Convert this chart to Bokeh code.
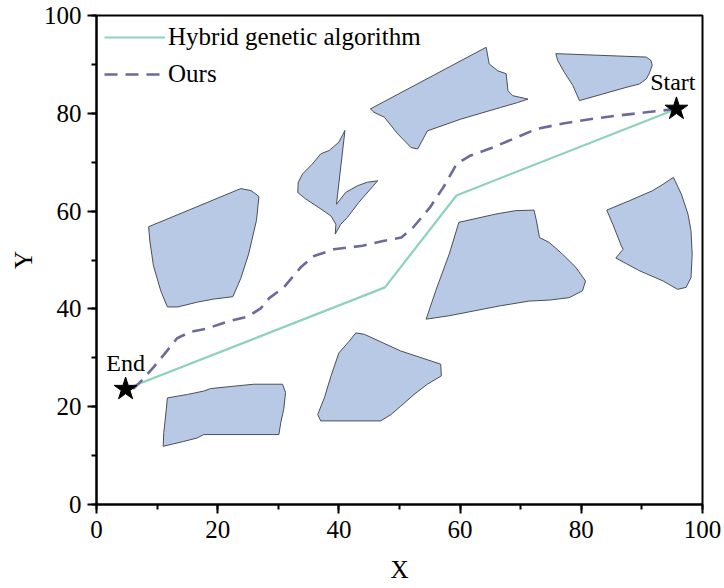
from bokeh.plotting import figure
from bokeh.models import Range1d, SingleIntervalTicker, ColumnDataSource
from bokeh.core.properties import value
from bokeh.embed import file_html
from bokeh.resources import INLINE

# ---------------- data ----------------
obs1_x = [8.6, 23.8, 25.5, 26.8, 26.4, 25.1, 23.8, 22.5, 19.3, 16.7, 13.4, 11.7, 10.6, 9.4, 8.8]
obs1_y = [56.8, 64.6, 64.2, 63.0, 58.1, 51.2, 46.2, 42.5, 42.0, 41.4, 40.4, 40.4, 43.7, 48.8, 53.9]

obs2_x = [41.0, 40.0, 38.4, 37.0, 35.6, 34.0, 33.3, 33.2, 34.5, 36.7, 38.7, 39.5, 39.4, 40.3, 41.4,
          43.3, 46.4, 44.7, 43.1, 41.1, 39.6]
obs2_y = [76.5, 74.1, 72.4, 71.7, 69.6, 67.6, 65.9, 63.8, 62.5, 60.7, 59.0, 57.3, 55.3, 57.3, 58.7,
          61.8, 66.2, 65.9, 65.2, 63.8, 61.4]

obs3_x = [45.2, 64.3, 64.8, 66.2, 67.6, 67.9, 68.7, 71.2, 69.5, 66.7, 60.1, 54.6, 53.0, 51.9, 49.7, 47.5, 45.8]
obs3_y = [80.9, 93.5, 90.1, 88.7, 88.1, 84.6, 83.6, 82.9, 82.2, 81.2, 78.8, 76.4, 72.7, 73.0, 75.8, 79.2, 80.2]

obs4_x = [75.8, 90.7, 91.5, 91.7, 91.2, 90.7, 89.6, 87.4, 79.7, 78.6, 77.2, 76.1]
obs4_y = [92.2, 91.5, 90.8, 89.8, 88.1, 87.0, 86.0, 85.3, 82.6, 85.7, 88.4, 90.8]

obs5_x = [59.8, 65.9, 69.2, 72.2, 72.6, 73.1, 74.7, 76.9, 79.1, 80.7, 80.2, 78.0, 74.7, 71.4, 66.5,
          58.2, 54.4, 56.0, 58.2]
obs5_y = [57.7, 59.4, 60.1, 60.2, 58.0, 54.6, 53.6, 51.2, 48.5, 45.7, 43.7, 42.3, 41.8, 41.6, 40.6,
          38.6, 37.9, 43.8, 51.2]

obs6_x = [84.2, 87.9, 91.8, 93.5, 95.2, 96.5, 97.6, 98.1, 98.3, 98.1, 97.3, 95.9, 93.5, 89.6, 85.7,
          86.9, 86.6, 85.2]
obs6_y = [60.2, 62.1, 64.2, 65.5, 66.9, 63.5, 59.4, 56.0, 51.2, 46.4, 44.4, 44.0, 45.7, 47.8, 50.4,
          52.2, 52.9, 57.3]

obs7_x = [42.8, 44.2, 50.2, 56.8, 56.9, 54.6, 52.4, 50.2, 48.6, 46.9, 37.0, 36.5, 37.6, 38.7, 40.0, 41.7]
obs7_y = [35.1, 34.8, 31.4, 28.7, 26.3, 24.6, 22.5, 20.1, 18.4, 17.1, 17.1, 18.4, 21.8, 26.3, 31.0, 33.4]

obs8_x = [11.7, 15.0, 17.7, 18.8, 22.7, 26.0, 30.7, 31.2, 30.9, 30.4, 30.1, 17.7, 16.6, 14.4, 11.0, 11.1, 11.4]
obs8_y = [21.8, 22.5, 23.2, 23.7, 24.2, 24.6, 24.6, 22.9, 19.5, 16.7, 14.3, 14.3, 13.6, 12.9, 11.9, 14.7, 18.1]

hybrid_x = [95.7, 59.4, 47.6, 4.8]
hybrid_y = [80.9, 63.2, 44.4, 23.6]

ours_x = [95.7, 90.7, 85.8, 81.4, 77.0, 72.6, 65.4, 61.6, 59.4, 58.5, 57.2, 55.0, 52.2, 50.3, 47.3,
          43.9, 39.2, 35.9, 33.7, 30.9, 28.5, 27.1, 24.9, 21.6, 18.3, 15.5, 13.3, 11.1, 9.5, 7.8, 6.2, 4.8]
ours_y = [80.9, 80.2, 79.5, 78.8, 77.9, 76.8, 73.0, 71.3, 69.6, 67.6, 64.8, 60.7, 56.6, 54.6, 53.9,
          52.9, 52.2, 50.8, 48.5, 44.4, 42.2, 40.1, 38.4, 37.4, 36.0, 35.3, 34.0, 30.6, 28.2, 25.8, 23.8, 23.6]

point_x = [95.7, 4.8]
point_y = [80.9, 23.6]
point_labels = ["Start", "End"]
label_x = [95.1, 4.8]
label_y = [86.4, 29.0]

series_names = ["Hybrid genetic algorithm", "Ours"]

# ---------------- figure ----------------
FONT = "Liberation Serif"

p = figure(width=724, height=588, output_backend="svg", toolbar_location=None,
           x_range=Range1d(0, 100), y_range=Range1d(0, 100),
           min_border_left=96, min_border_right=22, min_border_top=15, min_border_bottom=84)
p.grid.visible = False
p.background_fill_color = "white"
p.border_fill_color = "white"
p.outline_line_color = "black"
p.outline_line_width = 2

obs_xs = [obs1_x, obs2_x, obs3_x, obs4_x, obs5_x, obs6_x, obs7_x, obs8_x]
obs_ys = [obs1_y, obs2_y, obs3_y, obs4_y, obs5_y, obs6_y, obs7_y, obs8_y]
p.patches(xs=obs_xs, ys=obs_ys, fill_color="#b7c9e4", line_color="#4a4f5a", line_width=1)

p.line(hybrid_x, hybrid_y, line_color="#8dd3b9", line_width=2.2, legend_label=series_names[0])
p.line(ours_x, ours_y, line_color="#6c6a9c", line_width=2.6, line_dash="13 8",
       legend_label=series_names[1])

p.scatter(point_x, point_y, marker="star", size=24, fill_color="black", line_color="black")

src = ColumnDataSource(dict(x=label_x, y=label_y, t=point_labels))
p.text(x="x", y="y", text="t", source=src, text_align="center", text_baseline="alphabetic",
       text_font=value(FONT), text_font_size="24px", text_color="black")

for ax in (p.xaxis[0], p.yaxis[0]):
    ax.ticker = SingleIntervalTicker(interval=20, num_minor_ticks=2)
    ax.axis_line_width = 2
    ax.axis_line_color = "black"
    ax.major_tick_line_width = 2
    ax.minor_tick_line_width = 2
    ax.major_tick_out = 9
    ax.major_tick_in = 0
    ax.minor_tick_out = 5
    ax.minor_tick_in = 0
    ax.major_label_text_font = FONT
    ax.major_label_text_font_size = "25px"
    ax.major_label_text_color = "black"
    ax.axis_label_text_font = FONT
    ax.axis_label_text_font_size = "25px"
    ax.axis_label_text_font_style = "normal"
    ax.axis_label_text_color = "black"

p.xaxis.axis_label = "X"
p.yaxis.axis_label = "Y"
p.xaxis.major_label_standoff = 7
p.yaxis.major_label_standoff = 6
p.xaxis.axis_label_standoff = 15
p.yaxis.axis_label_standoff = 4

lg = p.legend[0]
lg.location = "top_left"
lg.margin = 5
lg.padding = 3
lg.spacing = 9
lg.glyph_width = 61
lg.glyph_height = 28
lg.label_height = 28
lg.label_standoff = 3
lg.label_text_font = FONT
lg.label_text_font_size = "25px"
lg.label_text_color = "black"
lg.border_line_alpha = 0
lg.background_fill_alpha = 0

open("out.html", "w").write(file_html(p, INLINE))
